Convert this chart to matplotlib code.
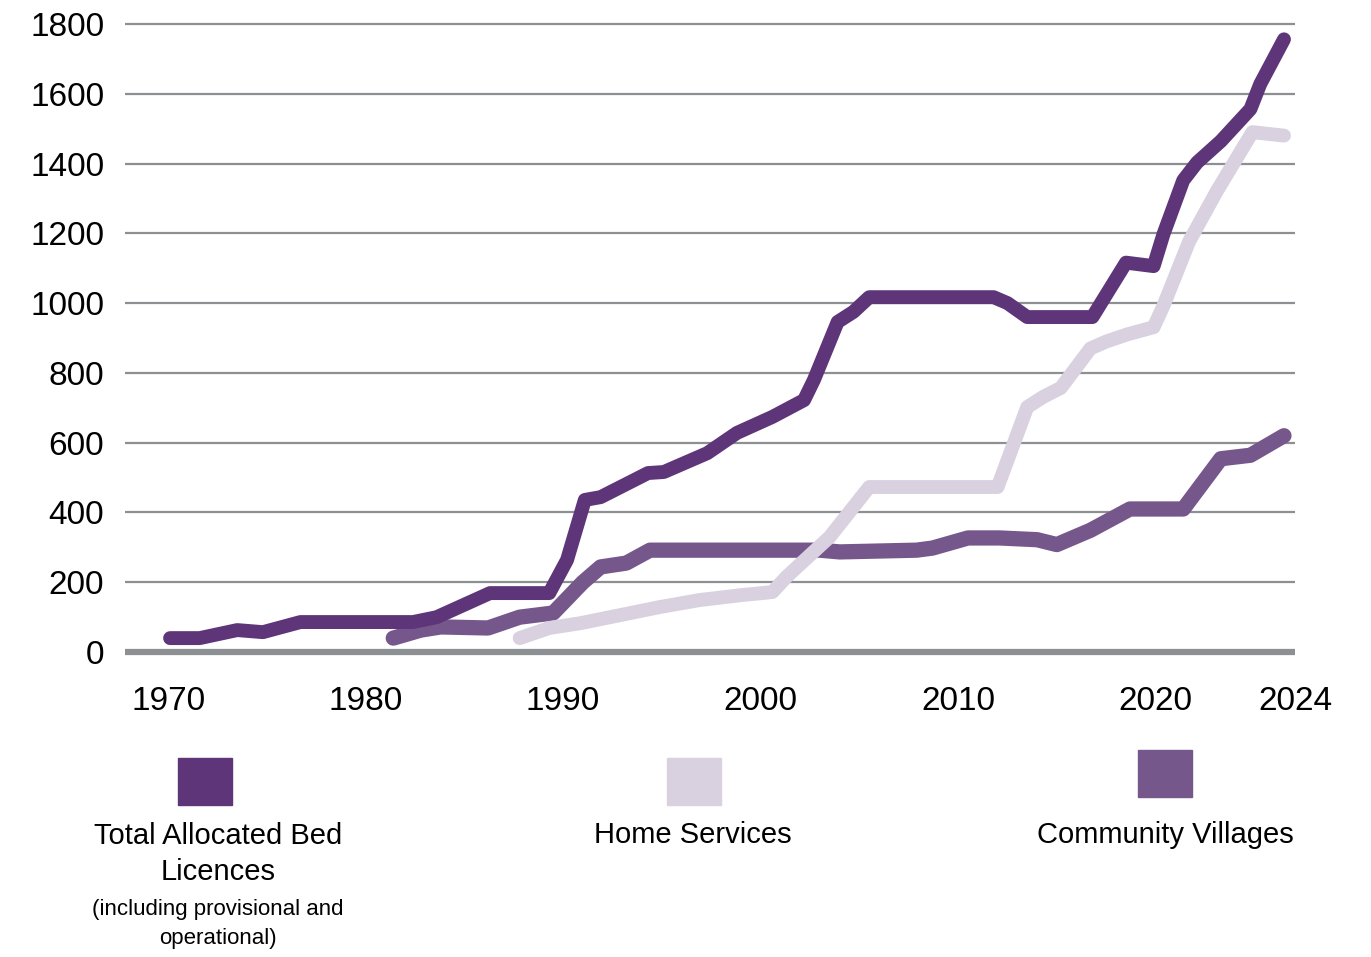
'''
Bed licences over time, three series
'''
import matplotlib
matplotlib.use('Agg')
import matplotlib.pyplot as plt
from matplotlib.patches import Rectangle

plt.rcParams['font.family'] = ['Liberation Sans', 'DejaVu Sans']

# values (x = position along the time axis, in years)
total_x = [1970.1, 1971.6, 1973.5, 1974.8, 1976.7, 1982.4, 1983.6, 1986.3, 1989.3, 1990.2,
           1991.1, 1991.9, 1994.3, 1995.1, 1997.3, 1998.8, 2000.6, 2002.2, 2002.7, 2003.9,
           2004.7, 2005.5, 2011.8, 2012.5, 2013.5, 2016.8, 2018.5, 2019.9, 2020.4, 2021.4,
           2022.1, 2023.3, 2024.8, 2025.3, 2026.5]
total_y = [40, 40, 63, 57, 86, 86, 100, 169, 169, 264,
           436, 444, 513, 516, 570, 628, 674, 722, 780, 946,
           975, 1017, 1017, 1000, 960, 960, 1116, 1106, 1198, 1352,
           1403, 1464, 1556, 1628, 1756]

home_x = [1987.8, 1989.3, 1990.9, 1992.9, 1994.9, 1996.9, 1999.0, 2000.6, 2001.3, 2003.5,
          2005.5, 2012.0, 2013.5, 2014.3, 2015.2, 2016.7, 2017.5, 2018.6, 2019.9, 2020.4,
          2021.7, 2023.1, 2024.9, 2026.5]
home_y = [40, 69, 83, 106, 129, 149, 163, 172, 215, 330,
          473, 473, 702, 731, 757, 870, 890, 911, 931, 993,
          1177, 1321, 1490, 1480]

comm_x = [1981.4, 1982.8, 1983.8, 1986.2, 1987.8, 1989.5, 1991.0, 1991.9, 1993.2, 1994.4,
          2003.0, 2004.0, 2007.9, 2008.7, 2010.5, 2012.1, 2014.0, 2015.0, 2016.7, 2018.7,
          2021.4, 2023.3, 2024.8, 2026.5]
comm_y = [40, 63, 72, 69, 100, 112, 200, 244, 255, 292,
          292, 287, 292, 298, 327, 327, 322, 308, 349, 410,
          410, 554, 564, 620]

yticks = [0, 200, 400, 600, 800, 1000, 1200, 1400, 1600, 1800]
xtick_pos = [1970, 1980, 1990, 2000, 2010, 2020, 2027.06]
xtick_labels = ['1970', '1980', '1990', '2000', '2010', '2020', '2024']

c_total = '#5e3578'
c_home = '#d9d1e0'
c_comm = '#76578b'
c_grid = '#8c9092'

fig = plt.figure(figsize=(13.71, 9.57), dpi=100)
ax = fig.add_axes([0.0912, 0.3077, 0.8534, 0.6782])

for v in yticks[1:]:
    ax.axhline(v, color=c_grid, lw=1.6, zorder=1)
ax.axhline(0, color=c_grid, lw=4.5, zorder=1)

kw = dict(solid_capstyle='round', solid_joinstyle='round')
ax.plot(comm_x, comm_y, color=c_comm, lw=11, zorder=2, **kw)
ax.plot(home_x, home_y, color=c_home, lw=10, zorder=3, **kw)
ax.plot(total_x, total_y, color=c_total, lw=10, zorder=4, **kw)

ax.set_xlim(1967.82, 2027.06)
ax.set_ylim(-30, 1830)
ax.set_yticks(yticks)
ax.set_yticklabels([str(v) for v in yticks], fontsize=24)
ax.set_xticks(xtick_pos)
ax.set_xticklabels(xtick_labels, fontsize=24)
ax.tick_params(axis='y', length=0, pad=15)
ax.tick_params(axis='x', length=0, pad=17)
for s in ax.spines.values():
    s.set_visible(False)

# legend: swatches above centred labels
W, H = 1371.0, 957.0
def swatch(x, y, color):
    fig.add_artist(Rectangle((x / W, 1 - (y + 47) / H), 54 / W, 47 / H,
                             transform=fig.transFigure, color=color))

swatch(178, 758, c_total)
swatch(667, 758, c_home)
swatch(1138, 750, c_comm)

fig.text(218 / W, 1 - 854 / H, 'Total Allocated Bed\nLicences', ha='center', va='center',
         fontsize=21, linespacing=1.35)
fig.text(218 / W, 1 - 924 / H, '(including provisional and\noperational)', ha='center',
         va='center', fontsize=16, linespacing=1.45)
fig.text(693 / W, 1 - 835 / H, 'Home Services', ha='center', va='center', fontsize=21)
fig.text(1165 / W, 1 - 835 / H, 'Community Villages', ha='center', va='center', fontsize=21)

fig.savefig('out.png', dpi=100, facecolor='white')
